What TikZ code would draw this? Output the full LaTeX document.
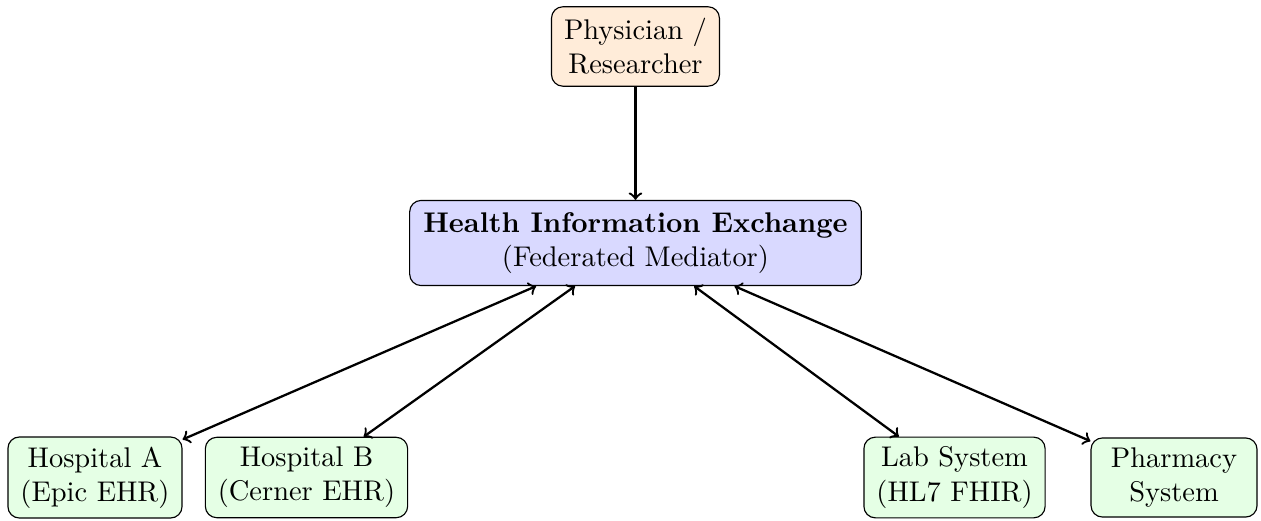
\documentclass[tikz,border=0pt]{standalone}
\usetikzlibrary{positioning}

\begin{document}
\begin{tikzpicture}
		[box/.style={draw, rounded corners, align=center, inner xsep=4.4pt, inner ysep=3.4pt},
		user/.style={box, fill=orange!15, inner ysep=4.1pt},
		hub/.style={box, fill=blue!15, inner ysep=4.2pt, inner xsep=4.8pt},
		source/.style={box, fill=green!10, minimum width=2.05cm},
		link/.style={thick}]
		\useasboundingbox (0,0) rectangle (15.573,-6.422);
		\node[user] (user) at (7.848,-0.574) {Physician /\\Researcher};
		\node[hub] (hie) at (7.848,-3.001) {\textbf{Health Information Exchange}\\(Federated Mediator)};
		\node[source] (hospa) at (1.173,-5.897) {Hospital A\\(Epic EHR)};
		\node[source] (hospb) at (3.785,-5.897) {Hospital B\\(Cerner EHR)};
		\node[source] (lab) at (11.788,-5.897) {Lab System\\(HL7 FHIR)};
		\node[source] (pharmacy) at (14.499,-5.897) {Pharmacy\\System};
		\draw[link, ->] (user) -- (hie);
		\draw[link, <->] (hie) -- (hospa);
		\draw[link, <->] (hie) -- (hospb);
		\draw[link, <->] (hie) -- (lab);
		\draw[link, <->] (hie) -- (pharmacy);
	\end{tikzpicture}
\end{document}
